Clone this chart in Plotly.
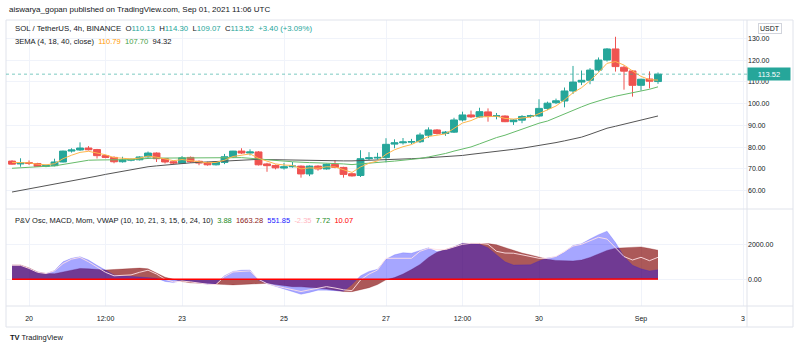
import pandas as pd
import plotly.graph_objects as go

# ---------------- data ----------------
times = pd.date_range("2021-08-19 16:00", periods=77, freq="4h")

opens = [73.6, 72.3, 72.9, 72.5, 71.2, 71.5, 73.2, 78.2, 78.7, 79.6,
         78.9, 76.1, 75.3, 73.3, 74.0, 74.2, 75.5, 77.3, 74.7, 73.3,
         72.6, 75.3, 73.5, 72.9, 71.9, 73.0, 75.6, 78.2, 77.3, 77.8,
         72.3, 71.6, 70.4, 71.0, 71.3, 67.7, 71.3, 70.0, 72.1, 70.7,
         67.8, 67.0, 74.7, 75.0, 75.2, 81.4, 82.0, 82.3, 82.5, 85.5,
         87.9, 86.3, 86.9, 92.5, 94.8, 93.9, 96.2, 94.1, 94.3, 91.7,
         92.4, 94.1, 94.3, 97.8, 100.4, 101.2, 105.8, 109.9, 110.7, 115.4,
         120.0, 125.1, 116.7, 115.0, 108.4, 111.3, 110.13]
highs = [74.0, 74.9, 73.9, 72.8, 71.9, 74.7, 78.4, 79.5, 82.2, 80.5,
         79.2, 76.5, 75.8, 75.6, 74.8, 75.8, 78.0, 77.6, 75.0, 73.8,
         75.9, 75.7, 73.9, 73.3, 73.6, 76.9, 78.3, 79.5, 79.0, 78.2,
         72.8, 72.0, 72.8, 73.2, 71.6, 71.6, 71.7, 72.4, 74.1, 71.0,
         68.2, 78.6, 77.7, 77.4, 84.1, 83.6, 84.2, 83.8, 86.6, 89.1,
         88.3, 87.4, 93.5, 96.3, 96.8, 98.1, 97.8, 95.7, 94.6, 92.9,
         94.7, 94.9, 102.0, 100.9, 102.3, 107.4, 117.3, 115.2, 116.3, 121.2,
         125.5, 130.7, 117.5, 115.4, 111.4, 114.8, 114.30]
lows = [72.0, 71.0, 71.8, 71.0, 70.8, 71.2, 73.0, 77.5, 78.3, 78.5,
        74.8, 74.9, 72.6, 72.9, 73.5, 73.9, 75.2, 73.2, 72.5, 72.3,
        72.3, 72.8, 71.7, 71.5, 71.6, 72.2, 75.0, 76.9, 76.2, 71.6,
        68.7, 69.8, 69.7, 70.6, 66.0, 66.7, 69.2, 69.7, 70.3, 66.0,
        66.5, 66.3, 74.1, 74.4, 73.0, 79.5, 81.2, 81.4, 81.9, 84.3,
        85.8, 85.2, 86.5, 91.8, 93.4, 93.6, 91.7, 92.8, 91.5, 90.2,
        91.0, 93.4, 93.8, 97.0, 99.8, 98.3, 104.4, 108.5, 108.9, 114.7,
        119.3, 114.7, 106.4, 103.2, 106.0, 107.0, 109.07]
closes = [72.2, 72.9, 72.5, 71.2, 71.6, 73.2, 78.2, 78.7, 79.6, 78.8,
          76.1, 75.3, 73.3, 74.1, 74.4, 75.5, 77.3, 74.7, 73.2, 72.7,
          75.1, 73.3, 72.7, 71.9, 73.2, 75.6, 78.2, 77.3, 77.8, 71.9,
          71.5, 70.5, 71.0, 71.3, 67.7, 71.3, 70.0, 72.1, 70.7, 67.5,
          66.8, 74.7, 75.1, 75.3, 81.3, 82.0, 82.4, 82.6, 85.6, 87.9,
          86.3, 86.9, 92.5, 94.8, 93.9, 96.3, 94.2, 94.4, 91.7, 92.5,
          94.1, 94.4, 97.8, 100.2, 101.3, 105.8, 109.9, 110.7, 115.4, 120.0,
          125.1, 117.0, 114.9, 108.4, 111.2, 110.3, 113.52]

ema4 = [73.0, 73.0, 72.8, 72.2, 71.9, 72.4, 74.7, 76.3, 77.6, 78.1,
        77.3, 76.5, 75.2, 74.8, 74.6, 75.0, 75.9, 75.4, 74.5, 73.8,
        74.3, 73.9, 73.4, 72.8, 73.0, 74.0, 75.7, 76.3, 76.9, 74.9,
        73.5, 72.3, 71.8, 71.6, 70.0, 70.5, 70.3, 71.0, 70.9, 69.5,
        68.4, 70.9, 72.6, 73.7, 76.7, 78.8, 80.2, 81.2, 83.0, 84.9,
        85.5, 86.1, 88.6, 91.1, 92.2, 93.9, 94.0, 94.2, 93.2, 92.9,
        93.4, 93.8, 95.4, 97.3, 98.9, 101.7, 105.0, 107.3, 110.5, 114.3,
        118.5, 119.3, 117.7, 115.0, 112.5, 111.0, 110.79]
ema18 = [70.3, 70.6, 70.8, 71.0, 71.2, 71.4, 72.1, 72.8, 73.5, 74.0,
         74.1, 74.1, 74.1, 74.2, 74.3, 74.6, 74.9, 75.0, 75.0, 75.0,
         75.1, 75.2, 75.2, 75.2, 75.2, 75.2, 75.3, 75.2, 74.9, 74.5,
         74.1, 73.9, 73.6, 73.3, 73.0, 72.9, 72.8, 72.7, 72.6, 72.3,
         72.0, 72.4, 72.7, 73.0, 73.3, 73.6, 74.0, 74.3, 74.8, 75.5,
         76.2, 77.1, 78.2, 79.2, 80.1, 81.5, 83.0, 84.4, 85.5, 86.9,
         88.3, 89.7, 91.0, 92.0, 93.7, 95.3, 97.0, 98.5, 100.0, 101.3,
         102.4, 103.4, 104.2, 104.9, 105.6, 106.6, 107.70]
ema40 = [59.4, 60.1, 60.8, 61.5, 62.3, 63.0, 63.7, 64.4, 65.2, 65.9,
         66.7, 67.5, 68.2, 69.0, 69.8, 70.5, 71.0, 71.4, 71.8, 72.2,
         72.6, 72.8, 73.0, 73.2, 73.4, 73.6, 73.8, 74.1, 74.3, 74.4,
         74.3, 74.2, 74.1, 74.1, 74.0, 73.9, 73.9, 73.8, 73.8, 73.7,
         73.7, 73.8, 74.0, 74.1, 74.2, 74.3, 74.5, 74.7, 74.9, 75.1,
         75.3, 75.5, 75.8, 76.2, 76.7, 77.1, 77.6, 78.0, 78.5, 79.0,
         79.5, 80.1, 80.6, 81.2, 82.1, 82.9, 83.8, 84.6, 85.9, 87.3,
         88.7, 89.6, 90.6, 91.6, 92.5, 93.4, 94.32]

osc_red = [817, 817, 650, 420, 330, 320, 420, 540, 620, 600,
           560, 530, 560, 600, 630, 640, 600, 350, 120, 0,
           -130, -200, -230, -280, -300, -300, -320, -300, -250, -230,
           -230, -300, -380, -420, -430, -450, -500, -560, -640, -700,
           -707, -611, -480, -300, -30, 100, 300, 560, 850, 1250,
           1550, 1700, 1850, 2050, 2057, 2057, 2040, 1970, 1800, 1630,
           1500, 1390, 1260, 1150, 1080, 1050, 1050, 1100, 1250, 1450,
           1650, 1780, 1806, 1820, 1850, 1760, 1663.28]
osc_blue = [800, 790, 620, 400, 330, 500, 1000, 1200, 1290, 1100,
            800, 500, 250, 200, 170, 150, 130, 60, -120, -190,
            -60, -120, -200, -280, -250, 200, 450, 520, 531, -50,
            -250, -400, -514, -700, -857, -750, -620, -620, -640, -680,
            -300, 200, 450, 570, 1150, 1400, 1520, 1490, 1650, 1800,
            1580, 1670, 1850, 2057, 2040, 2000, 1800, 1400, 1000, 817,
            817, 830, 1050, 1220, 1290, 1550, 1930, 2030, 2300, 2550,
            2750, 2100, 1300, 800, 600, 474, 551.85]
osc_line = [800, 800, 620, 400, 330, 480, 900, 1150, 1250, 1000,
            700, 400, 200, 210, 250, 400, 520, 300, 0, -150,
            -100, -150, -220, -280, -300, 150, 420, 470, 480, 0,
            -250, -380, -480, -600, -700, -600, -500, -420, -500, -600,
            -650, -40, 300, 530, 1200, 1200, 1200, 1200, 1600, 1770,
            1700, 1700, 1850, 2000, 2057, 2057, 2000, 1600, 1500, 1490,
            1400, 1300, 1200, 1200, 1300, 1600, 1900, 2000, 2200, 2400,
            2300, 1771, 1300, 1103, 1257, 1063, 1257]
mom_line = [0, 0, 0, 0, 0, 0, 0, 0, 0, 0, 0, 0, 0, 0, 0, 0, 0, 0, 0, 0,
            0, 0, 0, 0, 0, 0, 0, 0, 0, 0, 0, 0, 0, 0, 0, 0, 0, 0, 0, 0,
            0, 0, 0, 0, 0, 0, 0, 0, 0, 0, 0, 0, 0, 0, 0, 0, 0, 0, 0, 0,
            0, 0, 0, 0, 0, 0, 0, 0, 0, 0, 0, 0, 0, 0, 0, 0, 10.07]

tick_dates = ["2021-08-20", "2021-08-21 12:00", "2021-08-23", "2021-08-25",
              "2021-08-27", "2021-08-28 12:00", "2021-08-30", "2021-09-01", "2021-09-03"]
tick_labels = ["20", "12:00", "23", "25", "27", "12:00", "30", "Sep", "3"]

# ---------------- geometry helpers (pixel -> paper) ----------------
W, H = 800, 348
L, R, T, B = 6, 53, 20, 42
PW, PH = W - L - R, H - T - B


def px(x):
    return (x - L) / PW


def py(y):
    return (H - B - y) / PH


FONT = "Liberation Sans"
TXT = "#131722"
UP, DN = "#26a69a", "#ef5350"
GRID = "#f0f3fa"
BORDER = "#e0e3eb"

fig = go.Figure()

fig.add_trace(go.Candlestick(
    x=times, open=opens, high=highs, low=lows, close=closes,
    increasing=dict(line=dict(color=UP, width=1), fillcolor=UP),
    decreasing=dict(line=dict(color=DN, width=1), fillcolor=DN),
    whiskerwidth=0, xaxis="x", yaxis="y", hoverinfo="skip"))

fig.add_trace(go.Scatter(x=times, y=ema40, mode="lines",
                         line=dict(color="#555555", width=1), xaxis="x", yaxis="y"))
fig.add_trace(go.Scatter(x=times, y=ema18, mode="lines",
                         line=dict(color="#66bb6a", width=1), xaxis="x", yaxis="y"))
fig.add_trace(go.Scatter(x=times, y=ema4, mode="lines",
                         line=dict(color="#ffb74d", width=1), xaxis="x", yaxis="y"))

fig.add_trace(go.Scatter(x=times, y=osc_red, mode="lines", fill="tozeroy",
                         fillcolor="rgba(128,0,0,0.65)",
                         line=dict(color="rgba(128,0,0,0.5)", width=0.5),
                         xaxis="x", yaxis="y2"))
fig.add_trace(go.Scatter(x=times, y=osc_blue, mode="lines", fill="tozeroy",
                         fillcolor="rgba(0,0,255,0.35)",
                         line=dict(color="rgba(0,0,255,0.3)", width=0.5),
                         xaxis="x", yaxis="y2"))
fig.add_trace(go.Scatter(x=times, y=osc_line, mode="lines",
                         line=dict(color="rgba(255,225,230,0.9)", width=1),
                         xaxis="x", yaxis="y2"))
fig.add_trace(go.Scatter(x=times, y=mom_line, mode="lines",
                         line=dict(color="#ff0000", width=1.5),
                         xaxis="x", yaxis="y2"))

split = py(209)

fig.update_layout(
    width=W, height=H, margin=dict(l=L, r=R, t=T, b=B),
    paper_bgcolor="white", plot_bgcolor="white", showlegend=False,
    boxgap=0.1, boxgroupgap=0.1,
    font=dict(family=FONT, size=7, color=TXT),
    xaxis=dict(type="date", range=["2021-08-19 13:10", "2021-09-03 01:53"],
               domain=[0, 1], anchor="y2", tickvals=tick_dates, ticktext=tick_labels,
               showgrid=True, gridcolor=GRID, gridwidth=1, ticks="", showline=False,
               zeroline=False, rangeslider=dict(visible=False), ticklabelstandoff=7,
               tickfont=dict(family=FONT, size=7, color=TXT)),
    yaxis=dict(domain=[split, 1], range=[51.6, 138.4], side="right", anchor="x",
               dtick=10, tick0=0, tickformat=".2f", showgrid=True, gridcolor=GRID,
               zeroline=False, ticks="", showline=False,
               tickfont=dict(family=FONT, size=7, color=TXT)),
    yaxis2=dict(domain=[0, split], range=[-1526, 4017], side="right", anchor="x",
                tickvals=[0, 2000], tickformat=".2f", showgrid=True, gridcolor=GRID,
                zeroline=False, ticks="", showline=False,
                tickfont=dict(family=FONT, size=7, color=TXT)),
)

shapes = [
    dict(type="rect", xref="paper", yref="paper", x0=0, x1=px(793), y0=py(327), y1=1,
         line=dict(color=BORDER, width=1)),
    dict(type="line", xref="paper", yref="paper", x0=1, x1=1, y0=py(327), y1=1,
         line=dict(color=BORDER, width=1)),
    dict(type="line", xref="paper", yref="paper", x0=0, x1=px(793), y0=split, y1=split,
         line=dict(color=BORDER, width=1)),
    dict(type="line", xref="paper", yref="paper", x0=0, x1=px(793), y0=0, y1=0,
         line=dict(color=BORDER, width=1)),
    dict(type="line", xref="paper", yref="y", x0=0, x1=1, y0=closes[-1], y1=closes[-1],
         line=dict(color="rgba(38,166,154,0.6)", width=1, dash="dot")),
]
fig.update_layout(shapes=shapes)

teal = UP
SP = "&nbsp;"
legend1 = ("SOL / TetherUS, 4h, BINANCE" + SP * 2 + "O<span style='color:%s'>110.13</span>" % teal
           + SP * 2 + "H<span style='color:%s'>114.30</span>" % teal
           + SP * 2 + "L<span style='color:%s'>109.07</span>" % teal
           + SP * 2 + "C<span style='color:%s'>113.52</span>" % teal
           + SP * 2 + "<span style='color:%s'>+3.40 (+3.09%%)</span>" % teal)
legend2 = ("3EMA (4, 18, 40, close)" + SP * 2 + "<span style='color:#ff9800'>110.79</span>" + SP * 2
           + "<span style='color:#43a047'>107.70</span>" + SP * 2
           + "<span style='color:#131722'>94.32</span>")
legend3 = ("P&amp;V Osc, MACD, Mom, VWAP (10, 10, 21, 3, 15, 6, 24, 10)" + SP * 2
           + "<span style='color:#1b8a1b'>3.88</span>" + SP * 2
           + "<span style='color:#8b1a1a'>1663.28</span>" + SP * 2
           + "<span style='color:#2020ff'>551.85</span>" + SP * 2
           + "<span style='color:#ffb6c1'>-2.35</span>" + SP * 2
           + "<span style='color:#1b8a1b'>7.72</span>" + SP * 2
           + "<span style='color:#ff0000'>10.07</span>")

ann = [
    dict(text="aiswarya_gopan published on TradingView.com, Sep 01, 2021 11:06 UTC",
         x=px(7), y=py(10), xanchor="left", yanchor="middle", font=dict(size=8)),
    dict(text=legend1, x=px(13), y=py(29), xanchor="left", yanchor="middle", font=dict(size=7.8)),
    dict(text=legend2, x=px(13), y=py(41), xanchor="left", yanchor="middle", font=dict(size=7.6)),
    dict(text=legend3, x=px(13), y=py(220), xanchor="left", yanchor="middle", font=dict(size=7.5)),
    dict(text="USDT", x=px(770), y=py(28), xanchor="center", yanchor="middle",
         bordercolor="#d1d4dc", borderwidth=1, borderpad=1, bgcolor="white", font=dict(size=7)),
    dict(text="113.52", x=1.0, xanchor="left", y=closes[-1], yref="y", yanchor="middle",
         bgcolor=teal, width=40, height=10, borderpad=1, font=dict(size=7.5, color="white")),
    dict(text="<b>TV</b> TradingView", x=px(8), y=py(337), xanchor="left", yanchor="middle",
         font=dict(size=7.5)),
]
for a in ann:
    a.setdefault("xref", "paper")
    a.setdefault("yref", "paper")
    a["showarrow"] = False
fig.update_layout(annotations=ann)

fig.write_html("out.html")
